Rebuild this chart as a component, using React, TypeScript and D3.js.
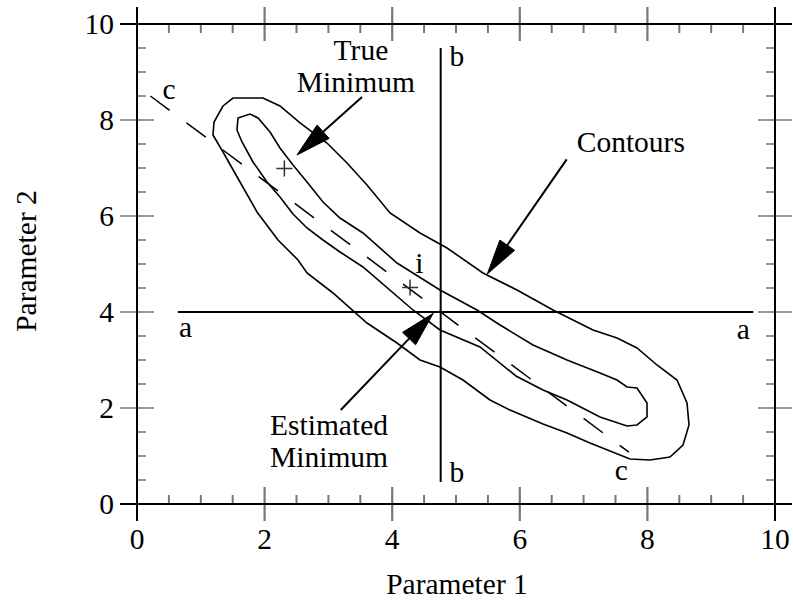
import React from "react";
import * as d3 from "d3";

// Objective-function contours in parameter space
const outerContour: [number, number][] = [
  [1.505, 8.458], [1.975, 8.458], [2.241, 8.292], [2.555, 7.938], [2.978, 7.521],
  [3.292, 7.104], [3.605, 6.646], [3.966, 6.063], [4.436, 5.646], [4.859, 5.333],
  [5.423, 4.813], [5.956, 4.458], [6.52, 4.042], [7.147, 3.625], [7.524, 3.458],
  [7.837, 3.25], [8.15, 2.896], [8.464, 2.583], [8.621, 2.104], [8.652, 1.646],
  [8.558, 1.229], [8.354, 0.979], [8.041, 0.917], [7.727, 0.938], [7.414, 1.104],
  [7.1, 1.271], [6.74, 1.479], [6.364, 1.667], [5.846, 1.958], [5.533, 2.167],
  [5.11, 2.583], [4.749, 2.854], [4.436, 3.0], [4.075, 3.354], [3.605, 3.771],
  [3.072, 4.396], [2.665, 4.813], [2.524, 5.083], [2.21, 5.5], [1.881, 6.083],
  [1.552, 6.854], [1.348, 7.333], [1.191, 7.688], [1.207, 7.958], [1.348, 8.292],
];

const innerContour: [number, number][] = [
  [1.583, 8.042], [1.771, 8.125], [1.897, 8.042], [2.085, 7.75], [2.241, 7.417],
  [2.445, 7.063], [2.665, 6.708], [2.915, 6.292], [3.182, 5.958], [3.542, 5.646],
  [4.075, 5.021], [4.749, 4.458], [5.329, 4.042], [5.69, 3.729], [6.207, 3.313],
  [6.74, 3.0], [7.257, 2.729], [7.524, 2.583], [7.68, 2.438], [7.837, 2.417],
  [7.994, 2.104], [7.994, 1.813], [7.837, 1.646], [7.68, 1.625], [7.257, 1.813],
  [6.74, 2.167], [6.364, 2.375], [5.94, 2.667], [5.376, 3.271], [4.749, 3.625],
  [4.326, 4.042], [3.542, 4.938], [3.182, 5.25], [2.915, 5.5], [2.665, 5.75],
  [2.445, 6.042], [2.241, 6.396], [2.038, 6.708], [1.818, 7.125], [1.646, 7.542],
  [1.567, 7.792],
];

// Search lines a–a, b–b and the valley line c–c
const lineA: [number, number][] = [[0.64, 4.0], [9.66, 4.0]];
const lineB: [number, number][] = [[4.76, 9.5], [4.76, 0.46]];
const lineC: [number, number][] = [[0.21, 8.5], [7.71, 1.08]];

// Marked points
const trueMinimum: [number, number] = [2.31, 6.99];
const pointI: [number, number] = [4.28, 4.51];

// Arrows: [tail, tip]
const arrows: [[number, number], [number, number]][] = [
  [[3.527, 8.479], [2.508, 7.271]],
  [[6.735, 7.181], [5.491, 4.792]],
  [[3.193, 1.958], [4.644, 3.973]],
];

// Text annotations: [x, y, text, anchor]
const annotations: [number, number, string, string][] = [
  [3.51, 9.25, "True", "middle"],
  [3.43, 8.583, "Minimum", "middle"],
  [7.74, 7.333, "Contours", "middle"],
  [2.085, 1.4375, "Estimated", "start"],
  [2.085, 0.771, "Minimum", "start"],
  [0.66, 3.48, "a", "start"],
  [9.4, 3.44, "a", "start"],
  [4.9, 9.13, "b", "start"],
  [4.9, 0.46, "b", "start"],
  [0.4, 8.44, "c", "start"],
  [7.49, 0.5, "c", "start"],
  [4.36, 4.82, "i", "start"],
];

const majorTicks = [0, 2, 4, 6, 8, 10];
const minorTicks = d3.range(0.5, 10, 0.5).filter((v) => v % 2 !== 0);
const xTitle = "Parameter 1";
const yTitle = "Parameter 2";

const W = 793;
const H = 601;
const FONT = "'Liberation Serif', 'Times New Roman', serif";
const FS = 29.5;
const SY = 1.03;

function Label({ x, y, text, anchor = "start", rotate = 0 }: any) {
  return (
    <g transform={`translate(${x},${y}) rotate(${rotate}) scale(1,${SY})`}>
      <text x={0} y={0} textAnchor={anchor} fontFamily={FONT} fontSize={FS} fill="#000">
        {text}
      </text>
    </g>
  );
}

export default function App() {
  const x = d3.scaleLinear().domain([0, 10]).range([137, 775]);
  const y = d3.scaleLinear().domain([0, 10]).range([504, 24]);
  const line = d3.line<[number, number]>().x((d) => x(d[0])).y((d) => y(d[1]));
  const closed = d3
    .line<[number, number]>()
    .x((d) => x(d[0]))
    .y((d) => y(d[1]))
    .curve(d3.curveLinearClosed);

  const L = 17; // major tick half-length
  const m = 9; // minor tick length
  const tickColor = "#777";
  const x0 = x(0), x1 = x(10), y0 = y(0), y1 = y(10);

  const arrowHead = (tail: [number, number], tip: [number, number]) => {
    const tx = x(tip[0]), ty = y(tip[1]);
    const sx = x(tail[0]), sy = y(tail[1]);
    const ang = Math.atan2(ty - sy, tx - sx);
    const len = 35, hw = 9;
    const bx = tx - len * Math.cos(ang), by = ty - len * Math.sin(ang);
    const px = -Math.sin(ang) * hw, py = Math.cos(ang) * hw;
    return {
      shaft: `M${sx},${sy}L${bx},${by}`,
      head: `M${tx},${ty}L${bx + px},${by + py}L${bx - px},${by - py}Z`,
    };
  };

  const plus = (p: [number, number], key: string) => {
    const cx = x(p[0]), cy = y(p[1]), a = 8;
    return (
      <path
        key={key}
        d={`M${cx - a},${cy}H${cx + a}M${cx},${cy - a}V${cy + a}`}
        stroke="#333"
        strokeWidth={1.5}
        fill="none"
      />
    );
  };

  return (
    <svg width={W} height={H} style={{ position: "absolute", left: 0, top: 0, background: "#fff" }}>
      <rect width={W} height={H} fill="#fff" />

      {/* minor ticks, pointing inward */}
      {minorTicks.map((v) => (
        <g key={"mn" + v} stroke={tickColor}>
          <line x1={x(v)} x2={x(v)} y1={y0} y2={y0 - m} strokeWidth={2} />
          <line x1={x(v)} x2={x(v)} y1={y1} y2={y1 + m} strokeWidth={2} />
          <line x1={x0} x2={x0 + m} y1={y(v)} y2={y(v)} strokeWidth={1.5} />
          <line x1={x1} x2={x1 - m} y1={y(v)} y2={y(v)} strokeWidth={1.5} />
        </g>
      ))}
      {/* major ticks, crossing the frame */}
      {majorTicks.filter((v) => v !== 0 && v !== 10).map((v) => (
        <g key={"mj" + v} stroke={tickColor}>
          <line x1={x(v)} x2={x(v)} y1={y0 - L} y2={y0 + L} strokeWidth={2.2} />
          <line x1={x(v)} x2={x(v)} y1={y1 - L} y2={y1 + L} strokeWidth={2.2} />
          <line x1={x0 - L} x2={x0 + L} y1={y(v)} y2={y(v)} strokeWidth={1.6} />
          <line x1={x1 - L} x2={x1 + L} y1={y(v)} y2={y(v)} strokeWidth={1.6} />
        </g>
      ))}
      {/* frame */}
      <g stroke="#000" strokeWidth={2}>
        <line x1={x0 - L} x2={x1 + L} y1={y0} y2={y0} />
        <line x1={x0 - L} x2={x1 + L} y1={y1} y2={y1} />
        <line x1={x0} x2={x0} y1={y1 - L} y2={y0 + L} />
        <line x1={x1} x2={x1} y1={y1 - L} y2={y0 + L} />
      </g>

      {/* tick labels */}
      {majorTicks.map((v) => (
        <Label key={"xl" + v} x={x(v)} y={549} text={String(v)} anchor="middle" />
      ))}
      {majorTicks.map((v) => (
        <Label key={"yl" + v} x={114} y={y(v) + 10} text={String(v)} anchor="end" />
      ))}
      <Label x={(x0 + x1) / 2 + 1} y={594} text={xTitle} anchor="middle" />
      <Label x={36} y={261} text={yTitle} anchor="middle" rotate={-90} />

      {/* contours */}
      <path d={closed(outerContour) || ""} fill="none" stroke="#000" strokeWidth={1.6} />
      <path d={closed(innerContour) || ""} fill="none" stroke="#000" strokeWidth={1.6} />

      {/* search lines */}
      <path d={line(lineA) || ""} stroke="#000" strokeWidth={2} fill="none" />
      <path d={line(lineB) || ""} stroke="#000" strokeWidth={2} fill="none" />
      <path d={line(lineC) || ""} stroke="#000" strokeWidth={1.5} strokeDasharray="24 21" fill="none" />

      {plus(trueMinimum, "tm")}
      {plus(pointI, "pi")}

      {arrows.map(([tail, tip], i) => {
        const a = arrowHead(tail, tip);
        return (
          <g key={"ar" + i}>
            <path d={a.shaft} stroke="#000" strokeWidth={2} fill="none" />
            <path d={a.head} fill="#000" stroke="#000" strokeWidth={1} />
          </g>
        );
      })}

      {annotations.map(([ax, ay, t, anchor], i) => (
        <Label key={"an" + i} x={x(ax)} y={y(ay)} text={t} anchor={anchor} />
      ))}
    </svg>
  );
}
